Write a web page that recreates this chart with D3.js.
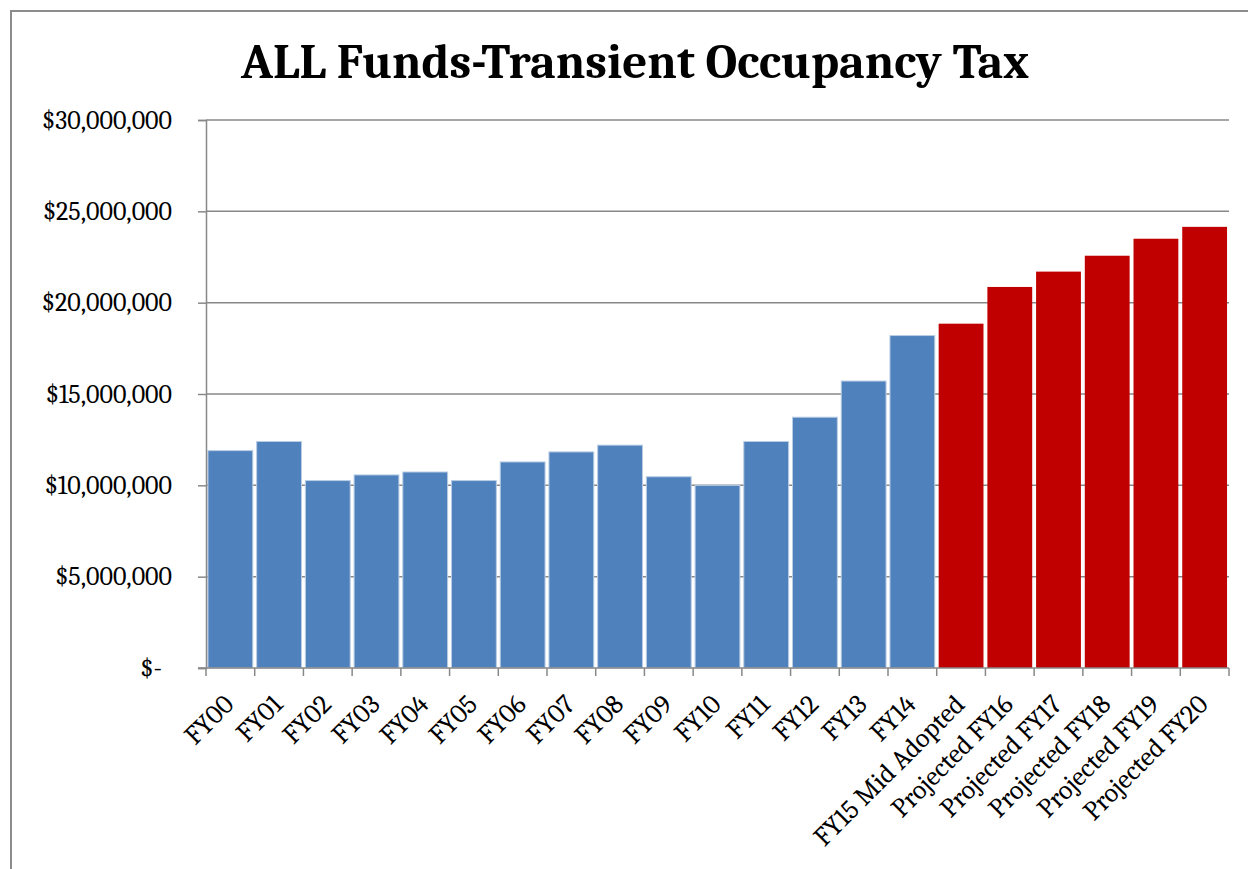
<!DOCTYPE html>
<html>
<head>
<meta charset="utf-8">
<script src="https://cdn.jsdelivr.net/npm/d3@7"></script>
<style>
  body { margin: 0; background: #fff; }
  svg { display: block; }
</style>
</head>
<body>
<div class="barchart"></div>
<script>
const categories = ["FY00", "FY01", "FY02", "FY03", "FY04", "FY05", "FY06", "FY07", "FY08", "FY09",
    "FY10", "FY11", "FY12", "FY13", "FY14", "FY15 Mid Adopted", "Projected FY16", "Projected FY17",
    "Projected FY18", "Projected FY19", "Projected FY20"];
const values = [11900000, 12400000, 10260000, 10570000, 10730000, 10260000, 11280000, 11830000, 12200000,
    10470000, 10000000, 12400000, 13730000, 15710000, 18200000, 18850000, 20860000, 21700000, 22570000,
    23500000, 24150000];
const projected = [false, false, false, false, false, false, false, false, false, false, false, false,
    false, false, false, true, true, true, true, true, true];
const yTicks = [0, 5000000, 10000000, 15000000, 20000000, 25000000, 30000000];

const data = categories.map((c, i) => ({ name: c, value: values[i], projected: projected[i] }));

const width = 1248, height = 869;
const margin = { left: 206, right: 19, top: 120, bottom: 201 };
const serif = "Cambria, 'Liberation Serif', 'DejaVu Serif', serif";

const svg = d3.select(".barchart")
    .append("svg")
    .attr("width", width)
    .attr("height", height);

// outer chart frame
svg.append("path")
    .attr("d", `M11,${height + 5} V11 H${width + 5}`)
    .attr("fill", "none")
    .attr("stroke", "#8c8c8c")
    .attr("stroke-width", 2);

svg.append("text")
    .attr("x", 635)
    .attr("y", 78)
    .attr("text-anchor", "middle")
    .attr("font-family", serif)
    .attr("font-weight", "bold")
    .attr("font-size", 49)
    .text("ALL Funds-Transient Occupancy Tax");

const x = d3.scaleBand()
    .domain(categories)
    .range([margin.left, width - margin.right])
    .paddingInner(0.08)
    .paddingOuter(0.04);

const y = d3.scaleLinear()
    .domain([0, 30000000])
    .range([height - margin.bottom, margin.top]);

const yFormat = d => d === 0 ? "$-" : "$" + d3.format(",")(d);

// gridlines
svg.append("g")
    .selectAll("line")
    .data(yTicks.slice(1))
    .join("line")
    .attr("x1", margin.left)
    .attr("x2", width - margin.right)
    .attr("y1", d => y(d))
    .attr("y2", d => y(d))
    .attr("stroke", "#888")
    .attr("stroke-width", 1.5);

// bars
svg.append("g")
    .selectAll("rect")
    .data(data)
    .join("rect")
    .attr("x", d => x(d.name))
    .attr("y", d => y(d.value))
    .attr("width", x.bandwidth())
    .attr("height", d => y(0) - y(d.value))
    .attr("fill", d => d.projected ? "#c00000" : "#4f81bd")
    .attr("stroke", d => d.projected ? "none" : "#b9cde5")
    .attr("stroke-width", 1);

// y axis
const yAxis = svg.append("g")
    .attr("transform", `translate(${margin.left},0)`)
    .call(d3.axisLeft(y).tickValues(yTicks).tickFormat(yFormat).tickSize(8).tickPadding(26));
yAxis.select(".domain").attr("stroke", "#888").attr("stroke-width", 1.5);
yAxis.selectAll(".tick line").attr("stroke", "#888").attr("stroke-width", 1.5);
yAxis.selectAll("text")
    .attr("font-family", serif)
    .attr("font-size", 26)
    .attr("fill", "#000")
    .attr("dx", d => d === 0 ? -10 : 0);

// x axis: baseline with ticks at category boundaries
const step = (width - margin.right - margin.left) / categories.length;
const xAxis = svg.append("g");
xAxis.append("line")
    .attr("x1", margin.left - 8)
    .attr("x2", width - margin.right)
    .attr("y1", y(0))
    .attr("y2", y(0))
    .attr("stroke", "#888")
    .attr("stroke-width", 1.5);
xAxis.selectAll(".bound")
    .data(d3.range(categories.length + 1))
    .join("line")
    .attr("class", "bound")
    .attr("x1", i => margin.left + i * step)
    .attr("x2", i => margin.left + i * step)
    .attr("y1", y(0))
    .attr("y2", y(0) + 8)
    .attr("stroke", "#888")
    .attr("stroke-width", 1.5);

xAxis.selectAll("text")
    .data(categories)
    .join("text")
    .attr("transform", d => `translate(${x(d) + x.bandwidth() / 2 + 5},${y(0) + 38}) rotate(-45)`)
    .attr("text-anchor", "end")
    .attr("font-family", serif)
    .attr("font-size", 27)
    .attr("fill", "#000")
    .text(d => d);
</script>
</body>
</html>
